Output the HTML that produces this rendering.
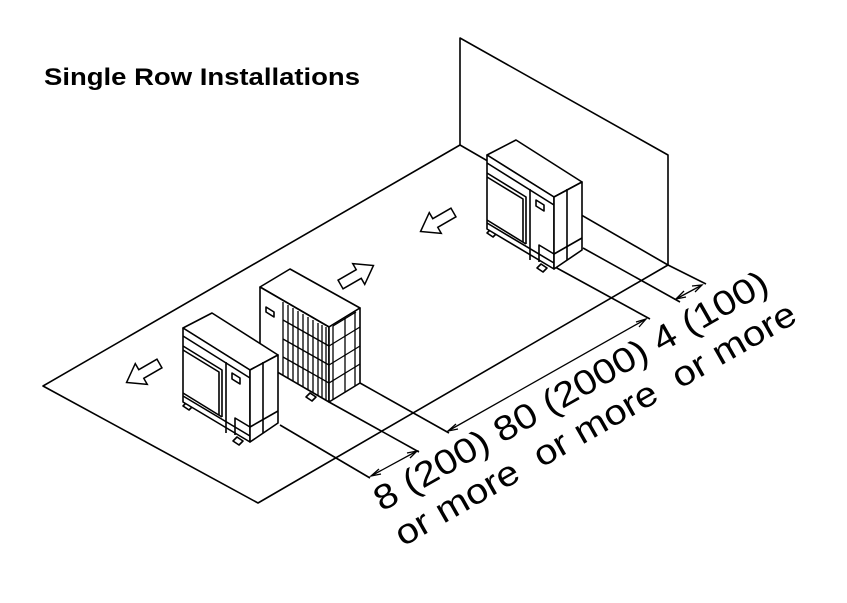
<!DOCTYPE html>
<html><head><meta charset="utf-8"><style>
html,body{margin:0;padding:0;background:#fff;}
svg{display:block;}
</style></head><body>
<svg width="847" height="603" viewBox="0 0 847 603" xmlns="http://www.w3.org/2000/svg">
<defs>
<g id="u1" fill="#fff" stroke="#000" stroke-width="1.6" stroke-linejoin="round">
  <polygon points="187,402 193,406 189,410 183,406"/>
  <polygon points="237,437 243,441 239,445 233,441"/>
  <polygon points="183,328 212,313 278,355 250,370"/>
  <polygon points="183,328 250,370 250,442 183,402"/>
  <polygon points="250,370 278,355 278,423 250,442"/>
  <polyline fill="none" points="183,336 250,378"/>
  <polyline fill="none" points="183,346 222,370 222,417"/>
  <polyline fill="none" points="183,350 219,372 219,415"/>
  <polyline fill="none" points="183,393 222,417"/>
  <line x1="226" y1="362" x2="226" y2="433"/>
  <polygon points="232,373 240,378 240,384 232,379"/>
  <polyline fill="none" points="235,435 235,418 250,427"/>
  <line x1="263" y1="362" x2="263" y2="433"/>
  <line x1="250" y1="427" x2="278" y2="411"/>
  <line x1="183" y1="396" x2="250" y2="436"/>
</g>
</defs>

<!-- title -->
<text x="44" y="85" font-family="Liberation Sans, sans-serif" font-weight="bold" font-size="24" textLength="316" lengthAdjust="spacingAndGlyphs">Single Row Installations</text>

<g fill="none" stroke="#000" stroke-width="1.6" stroke-linejoin="round">
  <polygon points="43,386 460,145 668,265 258,503" fill="#fff"/>
  <polyline points="460,145 460,38 668,155 668,265"/>
  <line x1="668" y1="265" x2="706" y2="284"/>
  <line x1="583" y1="248" x2="680" y2="302"/>
  <line x1="555" y1="267" x2="650" y2="319"/>
  <line x1="360" y1="383" x2="449" y2="433"/>
  <line x1="329" y1="402" x2="419" y2="452"/>
  <line x1="280" y1="425" x2="370" y2="478"/>
</g>

<g stroke="#000" stroke-width="1.3" fill="none">
  <line x1="676" y1="299" x2="702" y2="285"/>
  <polyline points="684,291 676,299 686,297"/>
  <polyline points="692,286 702,285 695,292"/>
  <line x1="448" y1="431" x2="646" y2="319"/>
  <polyline points="456,424 448,431 458,429"/>
  <polyline points="636,322 646,319 639,327"/>
  <line x1="371" y1="476" x2="417" y2="451"/>
  <polyline points="379,469 371,476 381,474"/>
  <polyline points="407,453 417,451 410,458"/>
</g>

<g fill="#fff" stroke="#000" stroke-width="1.5" stroke-linejoin="miter">
  <polygon transform="translate(143,373) rotate(150)" points="-19,-5 2,-5 2,-12 19,0 2,12 2,5 -19,5"/>
  <polygon transform="translate(357,275) rotate(-30)" points="-19,-5 2,-5 2,-12 19,0 2,12 2,5 -19,5"/>
  <polygon transform="translate(437,222) rotate(150)" points="-19,-5 2,-5 2,-12 19,0 2,12 2,5 -19,5"/>
</g>

<use href="#u1" transform="translate(304,-173)"/>

<g fill="#fff" stroke="#000" stroke-width="1.6" stroke-linejoin="round">
  <polygon points="310,393 316,397 312,401 306,397"/>
  <polygon points="260,287 290,269 360,308 329,327"/>
  <polygon points="260,287 329,327 329,402 260,362"/>
  <polygon points="329,327 360,308 360,383 329,402"/>
  <polygon points="266,307 274,312 274,317 266,312"/>
</g>
<g stroke="#000" stroke-width="1.3" fill="none">
  <line x1="283" y1="302" x2="283" y2="375"/>
  <line x1="288" y1="305" x2="288" y2="378"/>
  <line x1="293" y1="308" x2="293" y2="381"/>
  <line x1="298" y1="311" x2="298" y2="384"/>
  <line x1="303" y1="314" x2="303" y2="387"/>
  <line x1="308" y1="317" x2="308" y2="390"/>
  <line x1="313" y1="320" x2="313" y2="393"/>
  <line x1="318" y1="323" x2="318" y2="396"/>
  <line x1="322" y1="325" x2="322" y2="398"/>
  <line x1="326" y1="327" x2="326" y2="400"/>
  <line x1="283" y1="320" x2="329" y2="346"/>
  <line x1="283" y1="339" x2="329" y2="365"/>
  <line x1="283" y1="357" x2="329" y2="383"/>
  <line x1="333" y1="326" x2="333" y2="400"/>
  <line x1="345" y1="318" x2="345" y2="392"/>
  <line x1="355" y1="312" x2="355" y2="386"/>
  <line x1="329" y1="346" x2="360" y2="327"/>
  <line x1="329" y1="365" x2="360" y2="346"/>
  <line x1="329" y1="383" x2="360" y2="364"/>
  <line x1="333" y1="326" x2="356" y2="312"/>
</g>

<use href="#u1"/>

<g font-family="Liberation Sans, Arial, sans-serif" font-size="35" fill="#000" style="white-space:pre">
  <text transform="translate(382,512) rotate(-29.7)" textLength="448" lengthAdjust="spacingAndGlyphs">8 (200) 80 (2000) 4 (100)</text>
  <text transform="translate(403,547) rotate(-29.7)" textLength="456" lengthAdjust="spacingAndGlyphs" xml:space="preserve">or more  or more  or more</text>
</g>
</svg>
</body></html>
